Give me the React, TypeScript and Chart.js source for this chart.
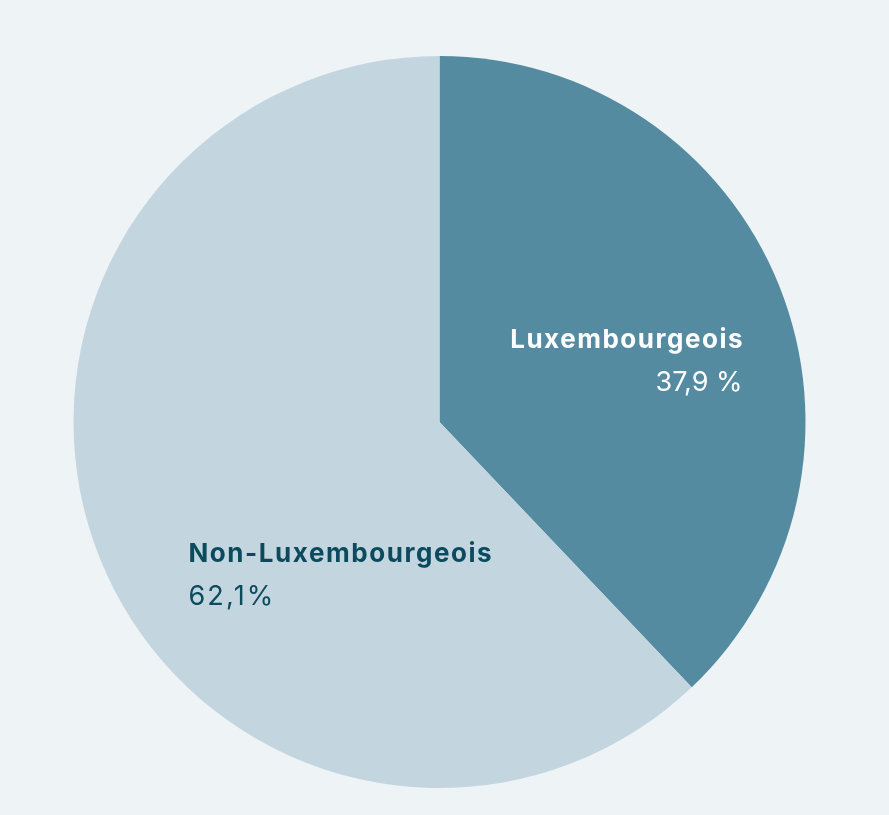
import React, { useEffect, useRef } from "react";
import { Chart, registerables } from "chart.js";

Chart.register(...registerables);

const categories = ["Luxembourgeois", "Non-Luxembourgeois"];
const shares = [37.9, 62.1];
const valueLabels = ["37,9 %", "62,1%"];
const sliceColors = ["#548BA1", "#C3D6E0"];
const labelColors = ["#FFFFFF", "#0C4A5E"];

const BG = "#EEF3F6";

function fitText(
  ctx: CanvasRenderingContext2D,
  text: string,
  x: number,
  y: number,
  target: number
) {
  (ctx as any).letterSpacing = "0px";
  const w = ctx.measureText(text).width;
  const sp = Math.max(0, (target - w) / text.length);
  (ctx as any).letterSpacing = sp.toFixed(2) + "px";
  const shift = ctx.textAlign === "right" ? sp : 0;
  ctx.fillText(text, x + shift, y);
  (ctx as any).letterSpacing = "0px";
}

const labelPlugin = {
  id: "sliceLabels",
  afterDatasetsDraw(chart: any) {
    const meta = chart.getDatasetMeta(0);
    const ctx = chart.ctx as CanvasRenderingContext2D;
    const arc0 = meta.data[0];
    const cx = arc0.x;
    const cy = arc0.y;
    const r = arc0.outerRadius;
    const anchors: [number, number, CanvasTextAlign][] = [
      [0.828, -0.202, "right"],
      [-0.686, 0.383, "left"],
    ];
    const nameW = [0.639, 0.833];
    const valW = [0.238, 0.238];
    ctx.save();
    categories.forEach((name, i) => {
      const [fx, fy, align] = anchors[i];
      const x = cx + fx * r;
      const y = cy + fy * r;
      ctx.textAlign = align;
      ctx.textBaseline = "alphabetic";
      ctx.fillStyle = labelColors[i];
      ctx.font = "700 26px Inter";
      fitText(ctx, name, x, y, nameW[i] * r);
      ctx.font = "400 27px Inter";
      fitText(ctx, valueLabels[i], x, y + 43, valW[i] * r);
    });
    ctx.restore();
  },
};

export default function App() {
  const ref = useRef<HTMLCanvasElement | null>(null);
  useEffect(() => {
    if (!ref.current) return;
    const chart = new Chart(ref.current, {
      type: "pie",
      data: {
        labels: categories,
        datasets: [
          {
            data: shares,
            backgroundColor: sliceColors,
            borderWidth: 0,
          },
        ],
      },
      options: {
        responsive: false,
        animation: false,
        layout: { padding: { left: 73, right: 83, top: 56, bottom: 27 } },
        plugins: {
          legend: { display: false },
          tooltip: { enabled: false },
        },
      },
      plugins: [labelPlugin],
    });
    return () => chart.destroy();
  }, []);
  return (
    <div
      style={{
        position: "fixed",
        left: 0,
        top: 0,
        width: 889,
        height: 815,
        background: BG,
      }}
    >
      <canvas ref={ref} width={889} height={815} style={{ display: "block" }} />
    </div>
  );
}
